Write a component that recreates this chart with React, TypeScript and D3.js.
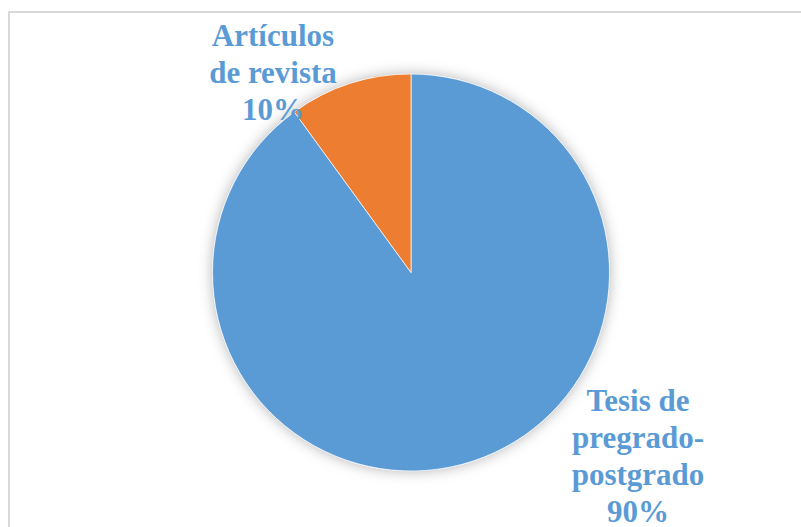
import { useEffect, useRef } from 'react'
import * as d3 from 'd3'

const categories = ['Tesis de pregrado-postgrado', 'Artículos de revista']
const values = [90, 10]
const colors = ['#5B9BD5', '#ED7D31']
const labelLines = [
  ['Tesis de', 'pregrado-', 'postgrado', '90%'],
  ['Artículos', 'de revista', '10%'],
]

interface Slice {
  label: string
  value: number
  color: string
  lines: string[]
}

const data: Slice[] = categories.map((c, i) => ({
  label: c,
  value: values[i],
  color: colors[i],
  lines: labelLines[i],
}))

const W = 801
const H = 527

export default function App() {
  const svgRef = useRef<SVGSVGElement>(null)

  useEffect(() => {
    if (!svgRef.current) return
    const svg = d3.select(svgRef.current)
    svg.selectAll('*').remove()

    const cx = 411
    const cy = 272.5
    const r = 198.5

    const defs = svg.append('defs')
    const f = defs.append('filter').attr('id', 'shadow')
      .attr('x', '-20%').attr('y', '-20%').attr('width', '140%').attr('height', '140%')
    f.append('feDropShadow')
      .attr('dx', 0).attr('dy', 0).attr('stdDeviation', 7)
      .attr('flood-color', '#000').attr('flood-opacity', 0.3)

    // chart area border
    svg.append('rect')
      .attr('x', 9).attr('y', 12)
      .attr('width', W).attr('height', H)
      .attr('fill', '#fff')
      .attr('stroke', '#D9D9D9').attr('stroke-width', 2)

    const pie = d3.pie<Slice>().value(d => d.value).sort(null)
    const arc = d3.arc<d3.PieArcDatum<Slice>>().innerRadius(0).outerRadius(r)

    const g = svg.append('g').attr('transform', `translate(${cx},${cy})`)
    g.append('circle').attr('r', r).attr('fill', '#fff').attr('filter', 'url(#shadow)')
    g.selectAll('path').data(pie(data)).enter().append('path')
      .attr('d', arc)
      .attr('fill', d => d.data.color)
      .attr('stroke', '#fff').attr('stroke-width', 0.7)

    // labels
    const labelPos: [number, number][] = [[638, 411], [273, 46]]
    const lineH = 37
    data.forEach((d, i) => {
      const t = svg.append('text')
        .attr('text-anchor', 'middle')
        .attr('font-family', '"Liberation Serif", "Times New Roman", serif')
        .attr('font-weight', 'bold')
        .attr('font-size', '31px')
        .attr('fill', '#5B9BD5')
      d.lines.forEach((ln, k) => {
        t.append('tspan')
          .attr('x', labelPos[i][0])
          .attr('y', labelPos[i][1] + k * lineH)
          .text(ln)
      })
    })
  }, [])

  return (
    <svg
      ref={svgRef}
      width={W}
      height={H}
      style={{ position: 'absolute', left: 0, top: 0, background: '#fff' }}
    />
  )
}
